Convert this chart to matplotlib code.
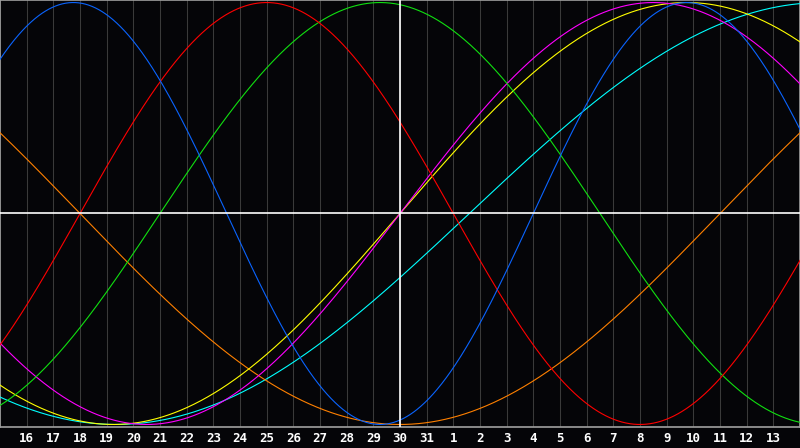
import numpy as np
import matplotlib
matplotlib.use("Agg")
import matplotlib.pyplot as plt

# ---- data ----
day_labels = ["16", "17", "18", "19", "20", "21", "22", "23", "24", "25", "26", "27",
              "28", "29", "30", "31", "1", "2", "3", "4", "5", "6", "7", "8", "9",
              "10", "11", "12", "13"]
today_index = 15          # position of "30" on the chart
n_days = 30               # chart spans 30 day-steps

cycle_names = ["Physical", "Emotional", "Intellectual", "Intuitive",
               "Aesthetic", "Awareness", "Spiritual"]
cycle_periods = [23, 28, 33, 38, 43, 48, 53]
# chart day index where each cycle crosses zero going upward
cycle_rise_day = [20.0, 3.0, 6.0, 15.0, 15.0, 27.0, 17.6]
cycle_colors = ["#0a64ff", "#ff0000", "#10e010", "#ff00ff",
                "#ffff00", "#ff8000", "#00ffff"]

# ---- plot ----
fig = plt.figure(figsize=(8.0, 4.48), dpi=100)
fig.patch.set_facecolor("#050508")
ax = fig.add_axes([0, 21 / 448, 1, 427 / 448])
ax.set_facecolor("#050508")

for i in range(n_days + 1):
    ax.axvline(i, color="#3a3a3a", lw=0.75, zorder=1)

t = np.linspace(0, n_days, 1200)
order = [6, 5, 4, 3, 2, 1, 0]
for k in order:
    y = np.sin(2 * np.pi * (t - cycle_rise_day[k]) / cycle_periods[k])
    ax.plot(t, y, color=cycle_colors[k], lw=0.8, zorder=3, label=cycle_names[k])

ax.axhline(0, color="white", lw=1.2, zorder=4)
ax.axvline(today_index, color="white", lw=1.2, zorder=4)

ax.set_xlim(0, n_days)
ax.set_ylim(-1.012, 1.012)
ax.set_yticks([])
ax.set_xticks(range(1, n_days))
ax.set_xticklabels(day_labels, color="white", fontsize=9, fontweight="bold",
                   family="DejaVu Sans Mono")
ax.tick_params(axis="x", length=0, pad=3.5)
for s in ax.spines.values():
    s.set_color("#a0a0a0")
    s.set_linewidth(1.2)

fig.savefig("out.png", dpi=100, facecolor=fig.get_facecolor())
